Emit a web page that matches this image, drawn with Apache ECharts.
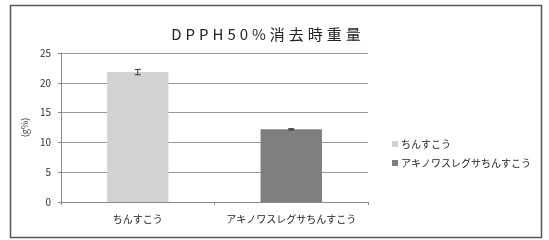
<!DOCTYPE html>
<html><head><meta charset="utf-8">
<script src="https://cdn.jsdelivr.net/npm/echarts@6/dist/echarts.min.js"></script>
<style>html,body{margin:0;padding:0;background:#fff}#c{width:549px;height:240px}</style>
</head><body><div id="c"></div>
<script>
const titleText = 'DPPH50%消去時重量';
const yAxisName = '(g%)';
const categories = ['ちんすこう', 'アキノワスレグサちんすこう'];
const values = [21.8, 12.2];
const errors = [0.45, 0.1];
const yTicks = [0, 5, 10, 15, 20, 25];
const colors = ['#d2d2d2', '#7f7f7f'];

const FONT = '"Noto Sans CJK JP", "Noto Sans", sans-serif';
const chart = echarts.init(document.getElementById('c'), null, {renderer: 'canvas'});

const series = categories.map((name, i) => ({
  name: name,
  type: 'bar',
  stack: 'all',
  barWidth: '40%',
  itemStyle: {color: colors[i]},
  data: categories.map((_, j) => (j === i ? values[j] : null))
}));

series.push({
  type: 'custom',
  name: 'err',
  z: 10,
  renderItem: function (params, api) {
    const idx = api.value(0);
    const lo = api.coord([idx, api.value(1)]);
    const hi = api.coord([idx, api.value(2)]);
    const w = 3;
    const st = {stroke: '#333', lineWidth: 1};
    return {
      type: 'group',
      children: [
        {type: 'line', shape: {x1: lo[0], y1: lo[1], x2: hi[0], y2: hi[1]}, style: st},
        {type: 'line', shape: {x1: lo[0] - w, y1: lo[1], x2: lo[0] + w, y2: lo[1]}, style: st},
        {type: 'line', shape: {x1: hi[0] - w, y1: hi[1], x2: hi[0] + w, y2: hi[1]}, style: st}
      ]
    };
  },
  data: values.map((v, i) => [i, v - errors[i], v + errors[i]])
});

// letter-spaced title: each character as its own rich token
const titleRich = titleText.split('').map(ch => '{s|' + ch + '}').join('');

chart.setOption({
  animation: false,
  textStyle: {fontFamily: FONT},
  title: {
    text: titleRich,
    left: 261, top: 22, textAlign: 'center',
    textStyle: {
      fontSize: 15, fontWeight: 'normal', color: '#222', fontFamily: FONT,
      rich: {s: {fontSize: 15, color: '#222', fontFamily: FONT, padding: [0, 2, 0, 2]}}
    }
  },
  legend: {
    orient: 'vertical',
    left: 387, top: 134,
    itemWidth: 6, itemHeight: 6, itemGap: 9,
    icon: 'rect',
    data: categories,
    textStyle: {fontSize: 10, color: '#222', fontFamily: FONT, padding: [0, 0, 0, -2]}
  },
  grid: {left: 61, right: 181, top: 53, bottom: 38},
  xAxis: {
    type: 'category',
    data: categories,
    axisLine: {lineStyle: {color: '#888'}},
    axisTick: {show: true, length: 3, lineStyle: {color: '#888'}},
    axisLabel: {fontSize: 10, color: '#222', margin: 12, interval: 0, fontFamily: FONT}
  },
  yAxis: {
    type: 'value',
    min: yTicks[0], max: yTicks[yTicks.length - 1], interval: 5,
    name: yAxisName,
    nameLocation: 'middle',
    nameGap: 31,
    nameRotate: 90,
    nameTextStyle: {fontSize: 9, color: '#444'},
    axisLine: {show: true, lineStyle: {color: '#888'}},
    axisTick: {show: true, length: 3, lineStyle: {color: '#888'}},
    axisLabel: {fontSize: 10, color: '#333', margin: 10},
    splitLine: {lineStyle: {color: '#999'}}
  },
  graphic: [{
    type: 'rect',
    shape: {x: 10.5, y: 5.5, width: 531, height: 232},
    style: {fill: 'none', stroke: '#555', lineWidth: 1.5},
    silent: true
  }],
  series: series
});
</script></body></html>
